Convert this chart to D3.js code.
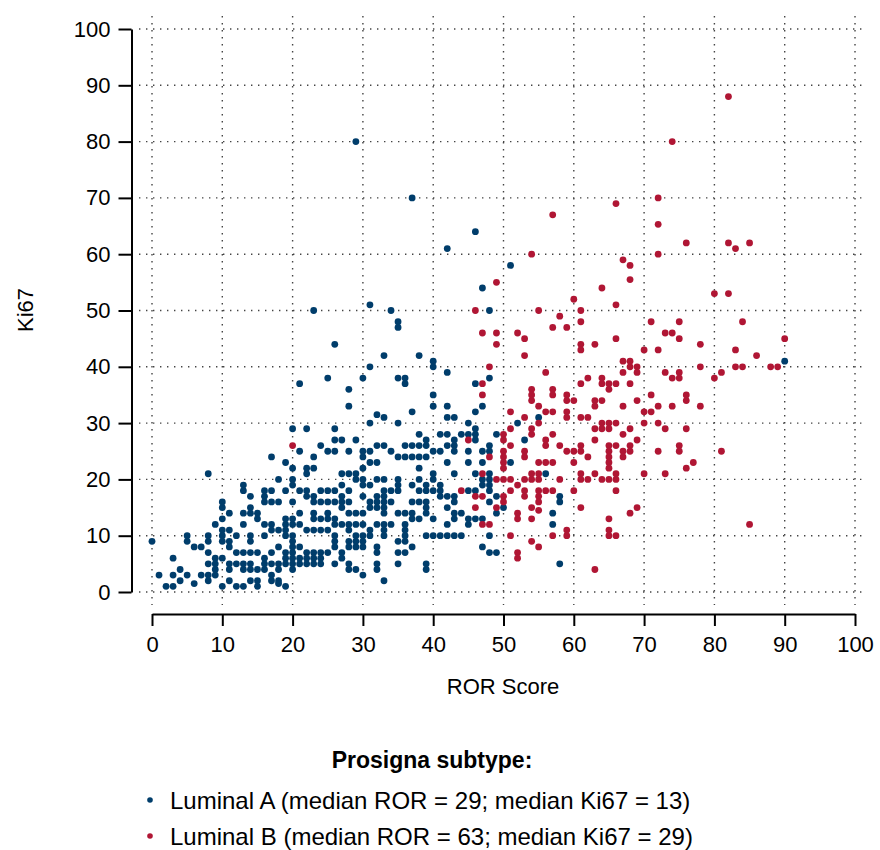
<!DOCTYPE html>
<html lang="en">
<script src="https://d3js.org/d3.v7.min.js"></script>
<style>
  body { margin: 0; background: #fff; }
  text { font-family: "Liberation Sans", Arial, sans-serif; fill: #000; }
</style>
<body>
<svg width="880" height="850"></svg>
<script>
// Luminal A points: [ROR score, Ki67]
var lumA = [
  [21,37],[20,29],[22,29],[21,25],[17,24],[19,23],[20,22],[22,22],[22,21],[8,21],[18,20],[20,20],[20,19],[13,19],[13,18],[16,18],[17,18],[19,18],[21,18],[22,18],[22,17],[14,17],[16,17],[16,16],[17,16],[18,16],[20,16],[10,16],[10,15],[14,15],[13,14],[14,14],[15,14],[11,14],[21,14],[15,13],[10,13],[19,13],[20,13],[9,12],[13,12],[16,12],[19,12],[20,12],[21,12],[17,12],[17,11],[18,11],[19,11],[22,11],[10,11],[11,11],[5,10],[8,10],[10,10],[12,10],[14,10],[16,10],[19,10],[20,10],[0,9],[5,9],[8,9],[10,9],[11,9],[14,9],[20,9],[6,8],[7,8],[11,8],[18,8],[20,8],[21,8],[8,7],[12,7],[13,7],[14,7],[15,7],[17,7],[19,7],[20,7],[22,7],[3,6],[9,6],[10,6],[16,6],[19,6],[20,6],[21,6],[22,6],[8,5],[9,5],[11,5],[12,5],[13,5],[14,5],[16,5],[17,5],[18,5],[19,5],[20,5],[21,5],[22,5],[4,4],[9,4],[11,4],[13,4],[14,4],[15,4],[16,4],[18,4],[20,4],[1,3],[3,3],[5,3],[7,3],[8,3],[9,3],[17,3],[4,2],[8,2],[11,2],[14,2],[15,2],[17,2],[18,2],[2,1],[3,1],[6,1.5],[10,1],[12,1],[13,1],[15,1],[18,1.5],[19,1],
  [25,38],[36,37],[46,37],[28,36],[40,35],[28,33],[40,33],[42,33],[32,31.5],[33,31],[37,32],[42,31],[43,31],[46,32],[31,30],[35,30],[45,30],[26,29],[26,27],[27,27],[29,27],[38,28],[39,27],[39,26],[41,28],[42,28],[44,28],[45,28],[43,27],[46,27],[24,26],[25,25],[26,25],[28,25],[30,25],[31,25],[32,26],[33,26],[34,25],[36,26],[37,26],[38,26],[36,24],[35,24],[37,24],[38,24],[39,24],[30,24],[40,25],[41,25],[43,25],[42,26],[43,26],[45,25],[23,24],[31,23],[32,23],[42,23],[45,23],[23,22],[30,22],[38,22],[27,21],[28,21],[29,21],[40,21],[43,21],[29,20],[30,20],[32,20],[33,20],[35,20],[38,20],[40,20],[46,21],[30,19],[31,19],[35,19],[37,19],[39,19],[41,19],[27,19],[23,17],[24,18],[25,18],[26,18],[28,18],[30,17],[33,18],[34,18],[35,18],[38,18],[39,18],[40,18],[41,18],[42,17],[43,17],[45,18],[23,16],[24,16],[25,16],[26,16],[27,16],[28,16],[27,17],[31,16],[32,17],[33,17],[32,16],[33,16],[34,16],[37,16],[38,16],[39,16],[41,17],[43,16],[23,14],[25,14],[27,15],[28,14],[29,14],[30,14],[31,15],[32,15],[33,15],[33,14],[35,14],[36,14],[37,14],[39,15],[39,14],[42,15],[43,14],[44,14],[46,13],[23,13],[24,13],[25,13],[26,13],[23,11],[24,11],[25,11],[26,12],[27,12],[28,12],[29,12],[30,12],[31,11],[32,12],[33,12],[33,11],[33,10],[34,12],[36,12],[37,13],[38,13],[40,13],[42,12],[43,13],[45,12],[45,13],[26,10],[28,11],[29,10],[30,10],[31,10],[36,11],[36,10],[36,9],[39,10],[40,10],[41,10],[42,10],[43,10],[44,10],[26,9],[26,8],[28,9],[28,8],[29,9],[29,8],[30,9],[30,8],[32,8],[32,7],[35,9],[35,7],[36,7],[37,8],[23,7],[24,7],[25,7],[23,6],[24,6],[23,5],[24,5],[26,5],[27,6],[28,5],[28,4],[29,4],[30,3],[32,5],[32,4],[35,5],[39,5],[39,4],[33,2],[27,7],
  [47,33],[52,30],[49,28],[46,29],[46,28],[53,27],[48,26],[48,25],[47,25],[47,23],[51,23],[48,21],[47,20],[48,20],[47,19],[48,19],[46,18],[48,18],[56,21],[58,17],[58,16],[49,17],[48,16],[50,15],[49,14],[57,14],[47,13],[57,12],[48,10],[47,8],[48,7],[49,7],[58,5],[55,31],
  [29,80],[37,70],[46,64],[42,61],[51,58],[47,54],[31,51],[23,50],[34,50],[48,50],[35,48],[35,47],[26,44],[33,42],[38,42],[40,41],[40,40],[31,40],[42,39],[30,38],[35,38],[36,38],[48,38],
  [90,41]
];

// Luminal B points: [ROR score, Ki67]
var lumB = [
  [20,26],[45,27],[44,18],[46,17],[46,15],
  [47,37],[47,35],[54,36],[54,35],[54,34],[57,36],[57,35],[59,35],[59,34],[60,34],[61,37],[64,37],[65,37],[66,37],[65,36],[68,37],[63,34],[63,33],[64,34],[67,33],[69,34],[70,32],[70,30],[51,32],[55,33],[56,32],[57,32],[59,32],[59,31],[53,31],[55,30],[61,31],[62,31],[51,29],[54,29],[54,28],[57,28],[63,29],[64,30],[65,30],[66,30],[64,29],[65,29],[67,28],[68,29],[63,27],[69,27],[50,28],[50,27],[51,26],[50,25],[53,25],[53,24],[56,27],[56,26],[58,26],[59,25],[60,25],[61,26],[61,25],[62,24],[65,26],[65,25],[65,24],[65,23],[65,22],[66,26],[67,25],[67,24],[68,26],[68,25],[48,24],[50,24],[50,23],[50,22],[55,23],[56,23],[57,23],[60,23],[61,21],[63,21],[66,21],[70,21],[47,21],[49,20],[50,20],[51,20],[53,20],[54,21],[54,20],[55,21],[55,20],[58,20],[61,20],[62,20],[64,20],[65,20],[66,20],[52,19],[51,18],[53,18],[53,17],[55,18],[56,18],[57,18],[55,17],[55,16],[60,18],[66,18],[47,17],[50,17],[50,16],[49,15],[54,15],[55,14.5],[61,15],[69,15],[68,14],[52,14],[52,13],[54,13],[47,12],[48,12],[65,13],[65,11],[65,10],[66,10],[59,11],[59,10],[57,10],[51,10],[54,9],[55,8],[52,7],[52,6],[63,4],
  [74,38],[75,38],[80,38],[71,35],[76,35],[76,34],[72,33],[74,33],[78,33],[71,32],[72,30],[73,29],[76,29],[75,26],[75,25],[72,25],[81,25],[77,23],[76,22],[73,21],[85,12],
  [49,55],[46,50],[47,46],[49,46],[52,46],[49,44],[48,40],
  [72,70],[66,69],[57,67],[72,65.3],[76,62],[82,62],[83,61],[85,62],[54,60],[72,60],[67,59],[68,58],[68,55.5],[64,54],[80,53],[82,53],[60,52],[66,51],[55,50],[61,50],[58,49],[61,48],[71,48],[75,48],[84,48],[57,47],[59,47],[73,46],[74,46],[53,45],[75,45],[66,45],[53,42],[61,44],[61,43],[63,44],[70,43],[72,43],[78,44],[83,43],[86,42],[90,45],[67,41],[68,41],[68,40],[69,40],[67,39],[69,39],[78,40],[83,40],[84,40],[88,40],[89,40],[56,39],[73,39],[75,39],[81,39],[62,38],[64,38],
  [74,80],[82,88]
];

var ticks = [0, 10, 20, 30, 40, 50, 60, 70, 80, 90, 100];
var legendLabels = [
  "Luminal A (median ROR = 29; median Ki67 = 13)",
  "Luminal B (median ROR = 63; median Ki67 = 29)"
];
var colA = "#003d6b", colB = "#b01634";

var svg = d3.select("svg");
var x = d3.scaleLinear().domain([0, 100]).range([152, 855]);
var y = d3.scaleLinear().domain([0, 100]).range([592, 29]);

// dotted grid
var grid = svg.append("g")
    .attr("stroke", "#444")
    .attr("stroke-width", 1.4)
    .attr("stroke-dasharray", "1.4,5.6");
grid.selectAll(".v").data(ticks).enter().append("line")
    .attr("x1", function (d) { return x(d); })
    .attr("x2", function (d) { return x(d); })
    .attr("y1", 16).attr("y2", 605);
grid.selectAll(".h").data(ticks).enter().append("line")
    .attr("y1", function (d) { return y(d); })
    .attr("y2", function (d) { return y(d); })
    .attr("x1", 139).attr("x2", 864);

// axes
svg.append("g")
    .attr("transform", "translate(131.5,0)")
    .call(d3.axisLeft(y).tickValues(ticks).tickSize(13).tickSizeOuter(0).tickPadding(8));
svg.append("g")
    .attr("transform", "translate(0,614)")
    .call(d3.axisBottom(x).tickValues(ticks).tickSize(12).tickSizeOuter(0).tickPadding(10));
svg.selectAll(".domain, .tick line").attr("stroke", "#000").attr("stroke-width", 2);
svg.selectAll(".tick text")
    .attr("fill", "#000")
    .style("font-size", "22px")
    .style("font-family", "'Liberation Sans', Arial, sans-serif");

// points
svg.append("g").selectAll("circle").data(lumA).enter().append("circle")
    .attr("cx", function (d) { return x(d[0]); })
    .attr("cy", function (d) { return y(d[1]); })
    .attr("r", 3.4)
    .attr("fill", colA);
svg.append("g").selectAll("circle").data(lumB).enter().append("circle")
    .attr("cx", function (d) { return x(d[0]); })
    .attr("cy", function (d) { return y(d[1]); })
    .attr("r", 3.4)
    .attr("fill", colB);

// axis titles
svg.append("text")
    .attr("x", 503).attr("y", 694)
    .attr("text-anchor", "middle")
    .style("font-size", "22px")
    .text("ROR Score");
svg.append("text")
    .attr("transform", "translate(33,310) rotate(-90)")
    .attr("text-anchor", "middle")
    .style("font-size", "22px")
    .text("Ki67");

// legend
svg.append("text")
    .attr("x", 432).attr("y", 768)
    .attr("text-anchor", "middle")
    .style("font-size", "23px")
    .style("font-weight", "bold")
    .text("Prosigna subtype:");
var leg = svg.append("g").selectAll("g").data(legendLabels).enter().append("g")
    .attr("transform", function (d, i) { return "translate(0," + (800 + i * 36) + ")"; });
leg.append("circle")
    .attr("cx", 150).attr("cy", 0).attr("r", 2.8)
    .attr("fill", function (d, i) { return i === 0 ? colA : colB; });
leg.append("text")
    .attr("x", 170).attr("y", 8.5)
    .style("font-size", "24px")
    .text(function (d) { return d; });
</script>
</body>
</html>
